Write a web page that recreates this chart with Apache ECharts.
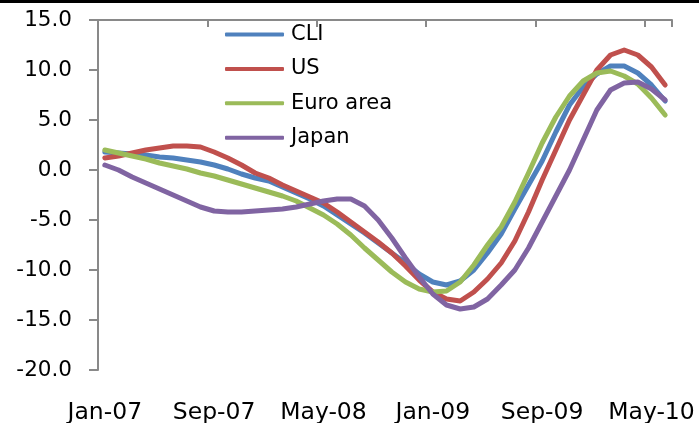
<!DOCTYPE html>
<html>
<head>
<meta charset="utf-8">
<script src="https://cdn.jsdelivr.net/npm/echarts@6/dist/echarts.min.js"></script>
<style>
  html, body { margin: 0; padding: 0; background: #fff; }
  #main { width: 699px; height: 423px; }
</style>
</head>
<body>
<div id="main"></div>
<script>
// monthly, Jan-07 .. Jun-10
var months = [];
var monNames = ['Jan', 'Feb', 'Mar', 'Apr', 'May', 'Jun', 'Jul', 'Aug', 'Sep', 'Oct', 'Nov', 'Dec'];
for (var y = 7; y <= 10; y++) {
  for (var m = 0; m < 12; m++) {
    if (y === 10 && m > 5) break;
    months.push(monNames[m] + '-' + (y < 10 ? '0' + y : y));
  }
}

var cli = [1.8, 1.7, 1.6, 1.5, 1.3, 1.2, 1.0, 0.8, 0.5, 0.1, -0.4, -0.8,
  -1.1, -1.7, -2.3, -2.9, -3.6, -4.5, -5.4, -6.3, -7.3, -8.3, -9.3, -10.4,
  -11.2, -11.5, -11.1, -10.0, -8.3, -6.4, -3.9, -1.5, 0.9, 3.8, 6.5, 8.3,
  9.6, 10.4, 10.4, 9.7, 8.5, 6.9];
var us = [1.2, 1.4, 1.7, 2.0, 2.2, 2.4, 2.4, 2.3, 1.8, 1.2, 0.5, -0.3,
  -0.8, -1.5, -2.1, -2.7, -3.3, -4.2, -5.2, -6.2, -7.2, -8.3, -9.6, -11.0,
  -12.2, -12.9, -13.1, -12.2, -10.9, -9.3, -7.1, -4.2, -1.0, 2.0, 5.0, 7.5,
  10.0, 11.5, 12.0, 11.5, 10.3, 8.5];
var euro = [2.0, 1.7, 1.4, 1.1, 0.7, 0.4, 0.1, -0.3, -0.6, -1.0, -1.4, -1.8,
  -2.2, -2.6, -3.1, -3.8, -4.5, -5.4, -6.5, -7.8, -9.0, -10.2, -11.2, -11.9,
  -12.2, -12.1, -11.2, -9.5, -7.5, -5.7, -3.2, -0.3, 2.7, 5.3, 7.4, 8.9,
  9.7, 9.9, 9.4, 8.6, 7.2, 5.5];
var japan = [0.5, 0.0, -0.7, -1.3, -1.9, -2.5, -3.1, -3.7, -4.1, -4.2, -4.2, -4.1,
  -4.0, -3.9, -3.7, -3.4, -3.1, -2.9, -2.9, -3.6, -5.0, -6.8, -8.8, -10.7,
  -12.4, -13.5, -13.9, -13.7, -12.9, -11.5, -10.0, -7.8, -5.2, -2.6, 0.0, 3.0,
  6.0, 8.0, 8.7, 8.8, 8.1, 7.0];

var seriesNames = ['CLI', 'US', 'Euro area', 'Japan'];
var seriesData = [cli, us, euro, japan];
var colors = ['#4F81BD', '#C0504D', '#9BBB59', '#8064A2'];

var yTicks = { min: -20, max: 15, step: 5 };

var font = 'DejaVu Sans';
var axisGray = '#898989';

var chart = echarts.init(document.getElementById('main'));

var option = {
  animation: false,
  color: colors,
  grid: { left: 98, right: 27, top: 20, bottom: 53, outerBoundsMode: 'none' },
  legend: {
    orient: 'vertical',
    left: 220,
    top: 19,
    icon: 'roundRect',
    itemWidth: 59,
    itemHeight: 4,
    itemGap: 13.4,
    data: seriesNames,
    textStyle: { fontFamily: font, fontSize: 21, color: '#000', padding: [0, 0, 0, 2] }
  },
  graphic: [{
    type: 'line',
    shape: { x1: 0, y1: 1.5, x2: 699, y2: 1.5 },
    style: { stroke: '#000', lineWidth: 3 }
  }],
  xAxis: [{
    type: 'category',
    data: months,
    position: 'bottom',
    axisLine: { show: false },
    axisTick: { show: false },
    axisLabel: {
      interval: 7,
      margin: 31,
      fontFamily: font,
      fontSize: 23.5,
      color: '#000'
    },
    splitLine: { show: false }
  }, {
    type: 'category',
    data: months,
    position: 'top',
    axisLine: { show: true, onZero: true, lineStyle: { color: axisGray, width: 2 } },
    axisTick: { show: true, inside: true, interval: 7, length: 7, lineStyle: { color: axisGray, width: 2 } },
    axisLabel: { show: false },
    splitLine: { show: false }
  }],
  yAxis: {
    type: 'value',
    min: yTicks.min,
    max: yTicks.max,
    interval: yTicks.step,
    axisLine: { show: true, lineStyle: { color: axisGray, width: 2 } },
    axisTick: { show: true, length: 9, lineStyle: { color: axisGray, width: 2 } },
    axisLabel: {
      margin: 26,
      fontFamily: font,
      fontSize: 21.5,
      color: '#000',
      padding: [5, 0, 0, 0],
      formatter: function (v) { return v.toFixed(1); }
    },
    splitLine: { show: false }
  },
  series: seriesNames.map(function (name, i) {
    return {
      name: name,
      type: 'line',
      xAxisIndex: 0,
      data: seriesData[i],
      symbol: 'none',
      lineStyle: { width: 5, color: colors[i], cap: 'round', join: 'round' }
    };
  })
};

chart.setOption(option);
</script>
</body>
</html>
